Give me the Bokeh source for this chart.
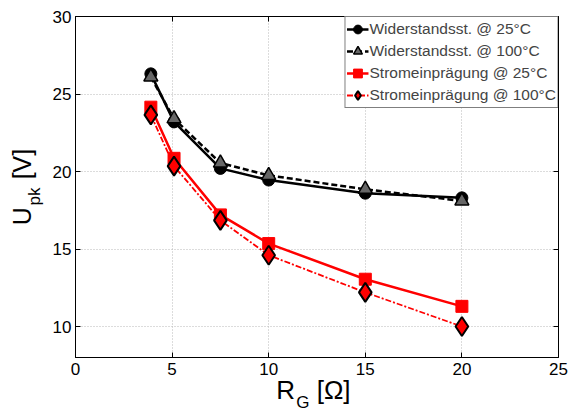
from bokeh.plotting import figure
from bokeh.models import Range1d, LinearAxis, FixedTicker
from bokeh.embed import file_html
from bokeh.resources import INLINE

# ---- data ----
rg = [3.9, 5.1, 7.5, 10, 15, 20]
wid_25 = [26.3, 23.2, 20.2, 19.45, 18.6, 18.3]
wid_100 = [26.1, 23.4, 20.55, 19.75, 18.85, 18.1]
strom_25 = [24.15, 20.85, 17.2, 15.35, 13.05, 11.3]
strom_100 = [23.65, 20.35, 16.85, 14.6, 12.2, 10.0]
x_ticks = [0, 5, 10, 15, 20, 25]
y_ticks = [10, 15, 20, 25, 30]
labels = ["Widerstandsst. @ 25°C", "Widerstandsst. @ 100°C",
          "Stromeinprägung @ 25°C", "Stromeinprägung @ 100°C"]
NB = "\u00a0"
# axis titles; non-breaking spaces leave room for / place the subscripts
y_title = "U" + NB * 4 + "[V]"
y_sub = "pk" + NB * 4
x_title = "R" + NB * 3 + "[Ω]" + NB
x_sub = "G" + NB * 6

FONT = "Liberation Sans"

p = figure(width=569, height=414, output_backend="svg", toolbar_location=None,
           x_range=Range1d(0, 25), y_range=Range1d(8, 30),
           min_border_left=75, min_border_right=11, min_border_top=16,
           min_border_bottom=57)
p.background_fill_color = "white"
p.border_fill_color = "white"
p.outline_line_color = "black"
p.outline_line_width = 1

for ax in (p.xaxis, p.yaxis):
    ax.major_tick_in = 5
    ax.major_tick_out = 0
    ax.minor_tick_line_color = None
    ax.minor_tick_out = 0
    ax.axis_line_color = "black"
    ax.major_label_text_font = FONT
    ax.major_label_text_font_size = "17px"
    ax.major_label_text_color = "black"
p.xaxis.ticker = FixedTicker(ticks=x_ticks)
p.yaxis.ticker = FixedTicker(ticks=y_ticks)
p.xaxis.major_label_standoff = 5
p.yaxis.major_label_standoff = 4

p.xgrid.ticker = FixedTicker(ticks=x_ticks)
p.ygrid.ticker = FixedTicker(ticks=y_ticks)
for g in (p.xgrid, p.ygrid):
    g.grid_line_color = "#b8b8b8"
    g.grid_line_dash = "1 2"
    g.grid_line_width = 1


# mirrored inward ticks on the top and right edges (labels not painted)
def mirror_axis(ticks, side):
    ax = LinearAxis(ticker=FixedTicker(ticks=ticks), major_tick_in=5,
                    major_tick_out=0, minor_tick_line_color=None,
                    minor_tick_in=0, minor_tick_out=0, axis_line_color=None,
                    major_label_text_color=None, major_label_text_font_size="1px",
                    major_label_standoff=0)
    p.add_layout(ax, side)


mirror_axis(y_ticks, "right")
mirror_axis(x_ticks, "above")


# ---- axis titles: extra label-only axes stacked outside the main axes ----
def title_axis(text, size, side, standoff):
    ax = LinearAxis(ticker=FixedTicker(ticks=[]), axis_label=text,
                    axis_label_text_font=FONT, axis_label_text_font_size=size,
                    axis_label_text_font_style="normal",
                    axis_label_text_color="black",
                    axis_label_standoff=standoff,
                    axis_line_color=None, major_tick_line_color=None,
                    minor_tick_line_color=None, major_tick_in=0, major_tick_out=0,
                    minor_tick_in=0, minor_tick_out=0, major_label_standoff=0)
    p.add_layout(ax, side)


title_axis(y_sub, "17px", "left", 6)
title_axis(y_title, "25px", "left", -14)
title_axis(x_title, "26px", "below", -3)
title_axis(x_sub, "17px", "below", -15)

# ---- series ----
p.line(rg, wid_25, line_color="black", line_width=2.5, legend_label=labels[0])
p.scatter(rg, wid_25, marker="circle", size=12, fill_color="black",
          line_color="black", legend_label=labels[0])

p.line(rg, wid_100, line_color="black", line_width=2.5, line_dash="6 3",
       legend_label=labels[1])
p.scatter(rg, wid_100, marker="triangle", size=14, fill_color="#666666",
          line_color="black", line_width=1.5, legend_label=labels[1])

p.line(rg, strom_25, line_color="#ff0000", line_width=2.5, legend_label=labels[2])
p.scatter(rg, strom_25, marker="square", size=12, fill_color="#ff0000",
          line_color="#ff0000", legend_label=labels[2])

p.line(rg, strom_100, line_color="#ff0000", line_width=1.8, line_dash="6 2 2 2",
       legend_label=labels[3])
p.scatter(rg, strom_100, marker="diamond", size=19, fill_color="#ff0000",
          line_color="black", line_width=2, legend_label=labels[3])

lg = p.legend[0]
lg.location = "top_right"
lg.margin = 0
lg.padding = 1
lg.spacing = 0
lg.glyph_width = 22
lg.glyph_height = 22
lg.label_height = 22
lg.label_standoff = 1
lg.label_text_font = FONT
lg.label_text_font_size = "15.5px"
lg.border_line_color = "black"
lg.border_line_width = 1
lg.background_fill_alpha = 1

open("out.html", "w").write(file_html(p, INLINE))
